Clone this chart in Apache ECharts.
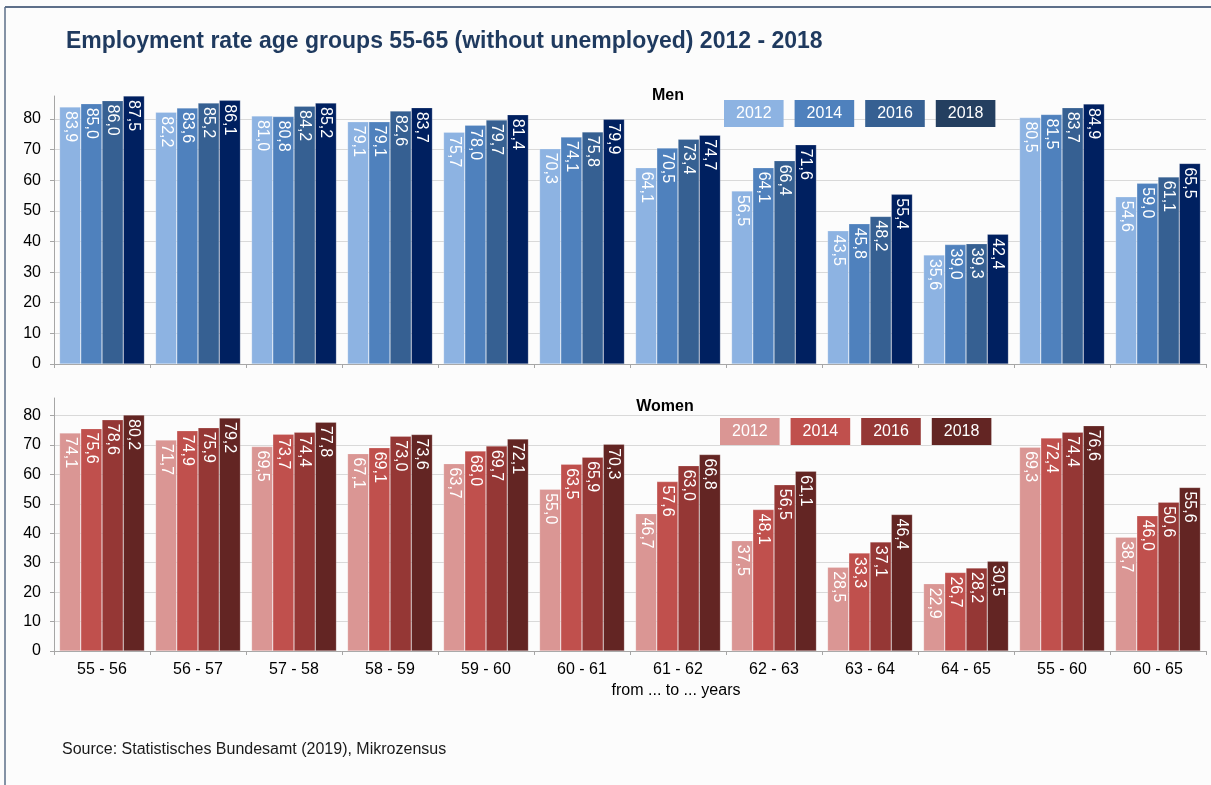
<!DOCTYPE html>
<html>
<head>
<meta charset="utf-8">
<title>Employment rate age groups 55-65</title>
<script src="https://cdn.jsdelivr.net/npm/echarts@6/dist/echarts.min.js"></script>
<style>
  html, body { margin: 0; padding: 0; background: #fcfcfc; }
  #chart { width: 1211px; height: 785px; }
</style>
</head>
<body>
<div id="chart"></div>
<script>
// Age groups (from ... to ... years)
const categories = ['55 - 56', '56 - 57', '57 - 58', '58 - 59', '59 - 60', '60 - 61',
                    '61 - 62', '62 - 63', '63 - 64', '64 - 65', '55 - 60', '60 - 65'];
const years = ['2012', '2014', '2016', '2018'];

// Employment rate, men (%)
const men2012 = [83.9, 82.2, 81.0, 79.1, 75.7, 70.3, 64.1, 56.5, 43.5, 35.6, 80.5, 54.6];
const men2014 = [85.0, 83.6, 80.8, 79.1, 78.0, 74.1, 70.5, 64.1, 45.8, 39.0, 81.5, 59.0];
const men2016 = [86.0, 85.2, 84.2, 82.6, 79.7, 75.8, 73.4, 66.4, 48.2, 39.3, 83.7, 61.1];
const men2018 = [87.5, 86.1, 85.2, 83.7, 81.4, 79.9, 74.7, 71.6, 55.4, 42.4, 84.9, 65.5];

// Employment rate, women (%)
const women2012 = [74.1, 71.7, 69.5, 67.1, 63.7, 55.0, 46.7, 37.5, 28.5, 22.9, 69.3, 38.7];
const women2014 = [75.6, 74.9, 73.7, 69.1, 68.0, 63.5, 57.6, 48.1, 33.3, 26.7, 72.4, 46.0];
const women2016 = [78.6, 75.9, 74.4, 73.0, 69.7, 65.9, 63.0, 56.5, 37.1, 28.2, 74.4, 50.6];
const women2018 = [80.2, 79.2, 77.8, 73.6, 72.1, 70.3, 66.8, 61.1, 46.4, 30.5, 76.6, 55.6];

// Value axis tick labels
const yTicks = [0, 10, 20, 30, 40, 50, 60, 70, 80];

const menData = [men2012, men2014, men2016, men2018];
const womenData = [women2012, women2014, women2016, women2018];
const menColors = ['#8db3e2', '#4f81bd', '#366092', '#002060'];
const menLegendColors = ['#8db3e2', '#4f81bd', '#366092', '#243f60'];
const womenColors = ['#da9694', '#c0504d', '#953735', '#632523'];

const FONT = '"Liberation Sans", Arial, sans-serif';
const AXIS_GREY = '#a6a6a6';

function fmt(v) { return v.toFixed(1).replace('.', ','); }

function makeLegend(colors, left, top) {
  return {
    left: left, top: top,
    padding: 0,
    orient: 'horizontal',
    icon: 'rect',
    itemWidth: 0, itemHeight: 0,
    itemGap: 5,
    selectedMode: false,
    data: years.map((y, i) => ({
      name: y,
      textStyle: {
        color: '#ffffff',
        backgroundColor: colors[i],
        padding: [6, 12, 5, 12],
        fontSize: 16,
        lineHeight: 16,
        fontFamily: FONT
      }
    }))
  };
}

function yAxis(gridIndex, max) {
  return {
    type: 'value', gridIndex: gridIndex, min: 0, max: max, interval: 10,
    axisLine: { show: true, lineStyle: { color: AXIS_GREY, width: 1 } },
    axisTick: { show: true, length: 4, lineStyle: { color: AXIS_GREY }, customValues: yTicks },
    axisLabel: { color: '#000', fontSize: 16, fontFamily: FONT, margin: 13, customValues: yTicks },
    splitLine: { show: true, lineStyle: { color: '#d9d9d9', width: 1 } }
  };
}

function xAxis(gridIndex, showLabels) {
  return {
    type: 'category', gridIndex: gridIndex, data: categories,
    axisLine: { show: true, lineStyle: { color: AXIS_GREY, width: 1 } },
    axisTick: { show: true, length: 4, lineStyle: { color: AXIS_GREY } },
    axisLabel: { show: showLabels, color: '#000', fontSize: 16, fontFamily: FONT, margin: 11 }
  };
}

function barSeries(data, colors, axisIndex) {
  return years.map((y, i) => ({
    name: y,
    type: 'bar',
    xAxisIndex: axisIndex, yAxisIndex: axisIndex,
    data: data[i],
    barGap: '0%',
    barCategoryGap: '11.5%',
    itemStyle: { color: colors[i], borderColor: 'rgba(255,255,255,0.35)', borderWidth: 0.6 },
    label: {
      show: true,
      position: 'insideTop',
      distance: 4,
      rotate: -90,
      align: 'left',
      verticalAlign: 'middle',
      color: '#ffffff',
      fontSize: 16,
      fontFamily: FONT,
      formatter: p => fmt(p.value)
    },
    emphasis: { disabled: true }
  }));
}

const chart = echarts.init(document.getElementById('chart'), null, { renderer: 'canvas' });

chart.setOption({
  backgroundColor: '#fcfcfc',
  animation: false,
  textStyle: { fontFamily: FONT },
  title: {
    text: 'Employment rate age groups 55-65 (without unemployed) 2012 - 2018',
    left: 66, top: 30, padding: 0,
    textStyle: { color: '#1f3a5f', fontSize: 23, fontWeight: 'bold', fontFamily: FONT }
  },
  legend: [
    makeLegend(menLegendColors, 718, 100),
    makeLegend(womenColors, 714, 418)
  ],
  grid: [
    { left: 54, right: 5, top: 96, height: 268 },
    { left: 54, right: 5, top: 398, height: 253 }
  ],
  xAxis: [xAxis(0, false), xAxis(1, true)],
  yAxis: [yAxis(0, 87.5), yAxis(1, 86)],
  series: [].concat(barSeries(menData, menColors, 0), barSeries(womenData, womenColors, 1)),
  graphic: [
    // outer frame (top and left edges)
    { type: 'line', shape: { x1: 5, y1: 7, x2: 1211, y2: 7 }, style: { stroke: '#5d6f89', lineWidth: 2 } },
    { type: 'line', shape: { x1: 5, y1: 7, x2: 5, y2: 785 }, style: { stroke: '#5d6f89', lineWidth: 1.5 } },
    { type: 'text', x: 668, y: 96, style: { text: 'Men', fill: '#000', font: 'bold 16px ' + FONT, align: 'center', verticalAlign: 'middle' } },
    { type: 'text', x: 665, y: 407, style: { text: 'Women', fill: '#000', font: 'bold 16px ' + FONT, align: 'center', verticalAlign: 'middle' } },
    { type: 'text', x: 676, y: 691, style: { text: 'from ... to ... years', fill: '#000', font: '16px ' + FONT, align: 'center', verticalAlign: 'middle' } },
    { type: 'text', x: 62, y: 750, style: { text: 'Source: Statistisches Bundesamt (2019), Mikrozensus', fill: '#1a1a1a', font: '16px ' + FONT, align: 'left', verticalAlign: 'middle' } }
  ]
});
</script>
</body>
</html>
